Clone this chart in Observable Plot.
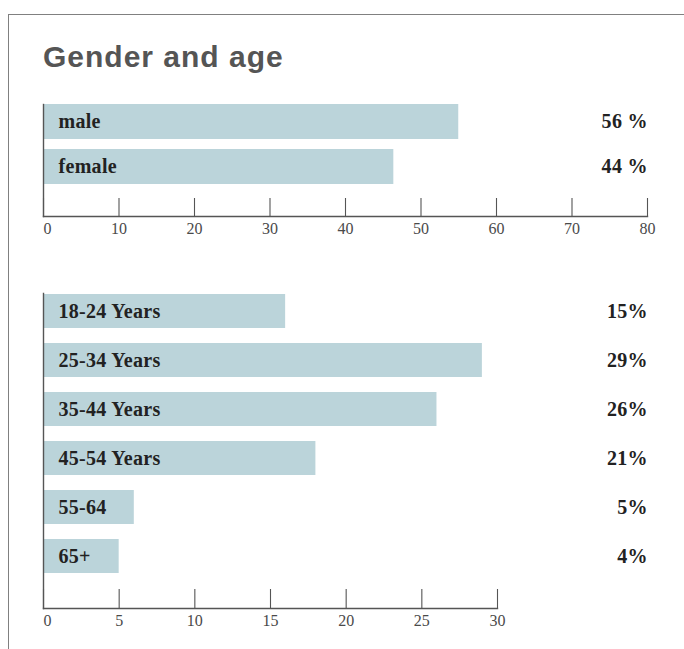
<!DOCTYPE html>
<html>
<head>
<meta charset="utf-8">
<script src="https://cdn.jsdelivr.net/npm/d3@7"></script>
<script src="https://cdn.jsdelivr.net/npm/@observablehq/plot@0.6"></script>
<style>
  html, body { margin: 0; padding: 0; background: #fff; }
  #page { position: relative; width: 684px; height: 649px; overflow: hidden; background: #fff; }
  #border { position: absolute; left: 8px; top: 14px; width: 720px; height: 700px;
            border-top: 1.5px solid #808080; border-left: 1.5px solid #808080; }
  #title { position: absolute; left: 43px; top: 42px; margin: 0;
           font-family: "Liberation Sans", Arial, sans-serif; font-weight: bold;
           font-size: 30px; line-height: 30px; color: #555555; letter-spacing: 1px; white-space: nowrap; }
  .chart { position: absolute; left: 0; }
  #c1 { top: 90px; }
  #c2 { top: 280px; }
  .chart g[aria-label="text"] text { letter-spacing: 0.3px; }
</style>
</head>
<body>
<div id="page">
  <div id="border"></div>
  <div id="title">Gender and age</div>
  <div id="c1" class="chart"></div>
  <div id="c2" class="chart"></div>
</div>
<script>
// ---- data ----
const genderCategories = ["male", "female"];
const genderValues = [55, 46.4];
const genderLabels = ["56 %", "44 %"];
const genderTicks = [0, 10, 20, 30, 40, 50, 60, 70, 80];

const ageCategories = ["18-24 Years", "25-34 Years", "35-44 Years", "45-54 Years", "55-64", "65+"];
const ageValues = [16, 29, 26, 18, 6, 5];
const ageLabels = ["15%", "29%", "26%", "21%", "5%", "4%"];
const ageTicks = [0, 5, 10, 15, 20, 25, 30];

// ---- styles ----
const barColor = "#bbd4da";
const axisColor = "#555555";
const tickTextColor = "#4a4a4a";
const labelColor = "#222222";
const serif = "Liberation Serif, Times New Roman, serif";

function makeChart({cats, vals, labels, ticks, domain, height, marginTop, marginBottom, marginRight, yRange, padInner, tickLen, valueDx}) {
  const rows = cats.map((c, i) => ({cat: c, value: vals[i], label: labels[i]}));
  const frameH = height - marginTop - marginBottom;
  return Plot.plot({
    width: 684,
    height,
    marginLeft: 43,
    marginRight,
    marginTop,
    marginBottom,
    style: {background: "transparent", overflow: "visible"},
    x: {domain, axis: null},
    y: {domain: cats, range: yRange, paddingInner: padInner, paddingOuter: 0, axis: null},
    marks: [
      Plot.barX(rows, {x: "value", y: "cat", fill: barColor}),
      Plot.text(rows, {y: "cat", text: "cat", frameAnchor: "left", dx: 15, textAnchor: "start",
        fontFamily: serif, fontWeight: "bold", fontSize: 20, fill: labelColor}),
      Plot.text(rows, {y: "cat", text: "label", frameAnchor: "right", dx: valueDx, textAnchor: "end",
        fontFamily: serif, fontWeight: "bold", fontSize: 20, fill: labelColor}),
      Plot.ruleX(ticks, {x: d => d, insetTop: frameH - tickLen, stroke: axisColor, strokeWidth: 1.1}),
      Plot.frame({anchor: "left", stroke: axisColor, strokeWidth: 1.4}),
      Plot.frame({anchor: "bottom", stroke: axisColor, strokeWidth: 1.4}),
      Plot.axisX(ticks.slice(1), {tickSize: 0, tickPadding: 6, fontFamily: serif, fontSize: 16,
        fill: tickTextColor, label: null, tickFormat: d => String(d)}),
      Plot.axisX(ticks.slice(0, 1), {tickSize: 0, tickPadding: 6, dx: 4, fontFamily: serif, fontSize: 16,
        fill: tickTextColor, label: null, tickFormat: d => String(d)})
    ]
  });
}

document.getElementById("c1").append(makeChart({
  cats: genderCategories, vals: genderValues, labels: genderLabels, ticks: genderTicks,
  domain: [0, 80], height: 160, marginTop: 14, marginBottom: 34, marginRight: 37,
  yRange: [14, 94], padInner: 10 / 45, tickLen: 18, valueDx: 0.3
}));

document.getElementById("c2").append(makeChart({
  cats: ageCategories, vals: ageValues, labels: ageLabels, ticks: ageTicks,
  domain: [0, 30], height: 369, marginTop: 13, marginBottom: 41, marginRight: 187,
  yRange: [13, 293.5], padInner: 0.3, tickLen: 19, valueDx: 150.3
}));
</script>
</body>
</html>
